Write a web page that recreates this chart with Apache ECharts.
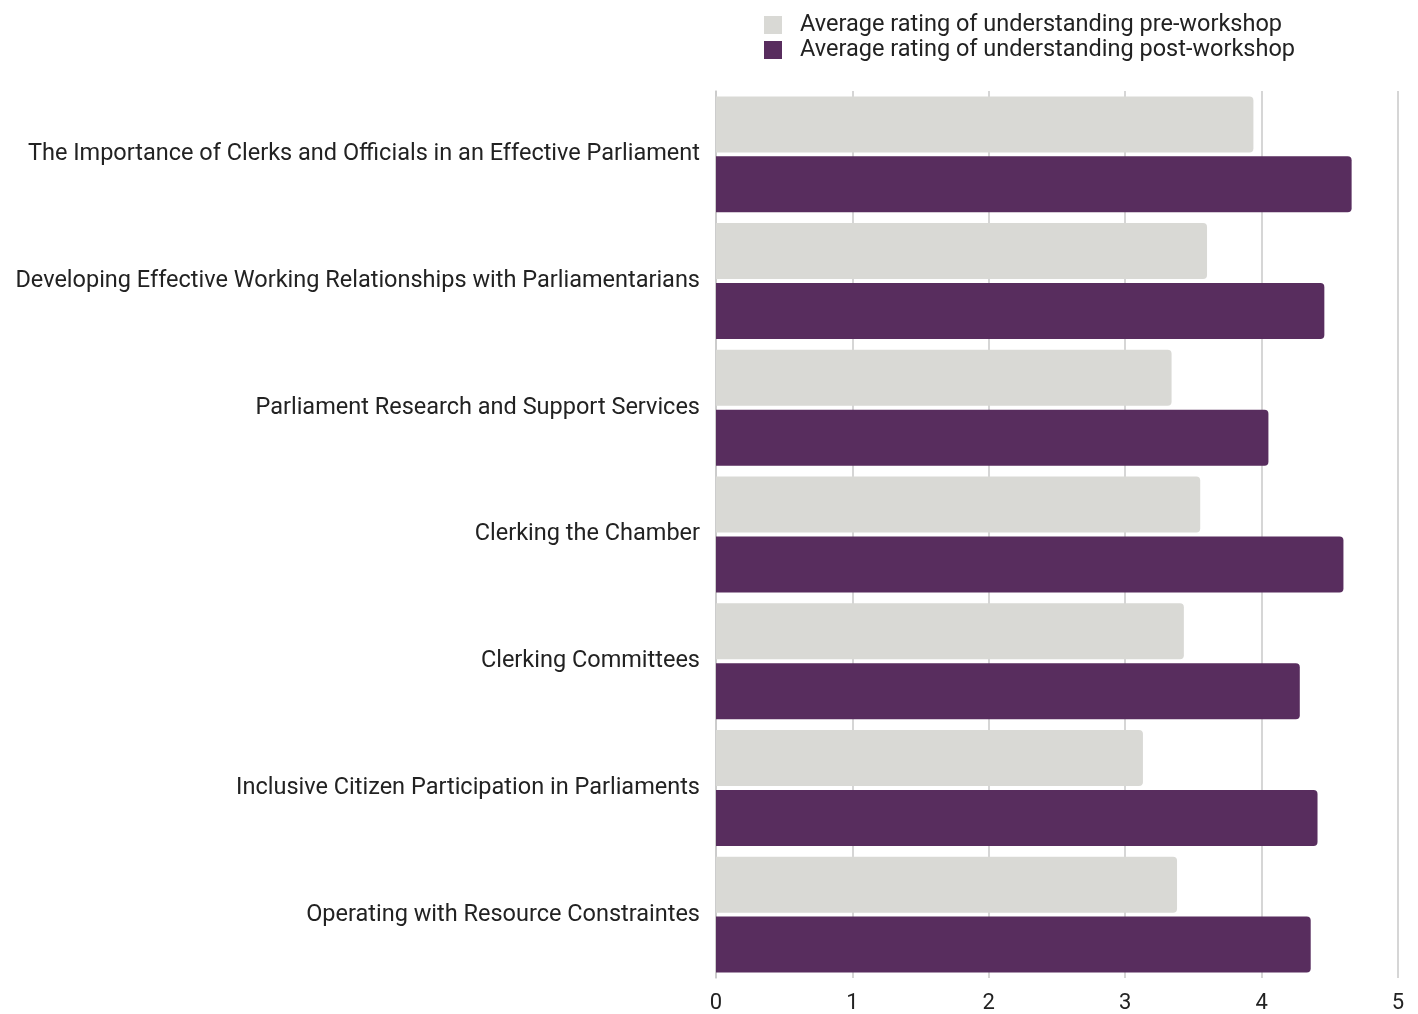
<!DOCTYPE html>
<html>
<head>
<meta charset="utf-8">
<script src="https://cdn.jsdelivr.net/npm/echarts@6/dist/echarts.min.js"></script>
<style>
  html, body { margin: 0; padding: 0; background: #fff; }
  #chart { width: 1418px; height: 1014px; }
</style>
</head>
<body>
<div id="chart"></div>
<script>
const categories = [
  "The Importance of Clerks and Officials in an Effective Parliament",
  "Developing Effective Working Relationships with Parliamentarians",
  "Parliament Research and Support Services",
  "Clerking the Chamber",
  "Clerking Committees",
  "Inclusive Citizen Participation in Parliaments",
  "Operating with Resource Constraintes"
];
const preWorkshop = [3.94, 3.60, 3.34, 3.55, 3.43, 3.13, 3.38];
const postWorkshop = [4.66, 4.46, 4.05, 4.60, 4.28, 4.41, 4.36];
const xTicks = [0, 1, 2, 3, 4, 5];

const font = "Roboto";
const chart = echarts.init(document.getElementById("chart"));
chart.setOption({
  animation: false,
  textStyle: { fontFamily: font },
  legend: {
    orient: "vertical",
    left: 764,
    top: 13,
    padding: 0,
    itemWidth: 18,
    itemHeight: 18,
    itemGap: 1,
    icon: "rect",
    textStyle: { fontSize: 23.5, lineHeight: 22, color: "#222", fontFamily: font, padding: [2, 0, 0, 13] },
    data: ["Average rating of understanding pre-workshop", "Average rating of understanding post-workshop"]
  },
  grid: { left: 716, right: 20, top: 91, bottom: 27, containLabel: false },
  xAxis: {
    type: "value",
    min: xTicks[0],
    max: xTicks[xTicks.length - 1],
    interval: 1,
    axisLine: { show: false },
    axisTick: { show: false },
    splitLine: { show: true, lineStyle: { color: "#c8c8c8", width: 1.5 } },
    axisLabel: { fontSize: 22, color: "#222", margin: 14, fontFamily: font }
  },
  yAxis: {
    type: "category",
    data: categories,
    inverse: true,
    axisLine: { show: true, lineStyle: { color: "#c8c8c8", width: 1.5 } },
    axisTick: { show: false },
    axisLabel: { fontSize: 23.5, color: "#222", margin: 16, fontFamily: font, padding: [0, 0, 0, 0], lineHeight: 24, verticalAlign: "middle", offset: [0, 3] }
  },
  series: [
    {
      name: "Average rating of understanding pre-workshop",
      type: "bar",
      data: preWorkshop,
      barWidth: 56,
      barGap: "7%",
      itemStyle: { color: "#d9d9d5", borderRadius: [0, 4, 4, 0] }
    },
    {
      name: "Average rating of understanding post-workshop",
      type: "bar",
      data: postWorkshop,
      barWidth: 56,
      barGap: "7%",
      itemStyle: { color: "#582d5e", borderRadius: [0, 4, 4, 0] }
    }
  ]
});
</script>
</body>
</html>
